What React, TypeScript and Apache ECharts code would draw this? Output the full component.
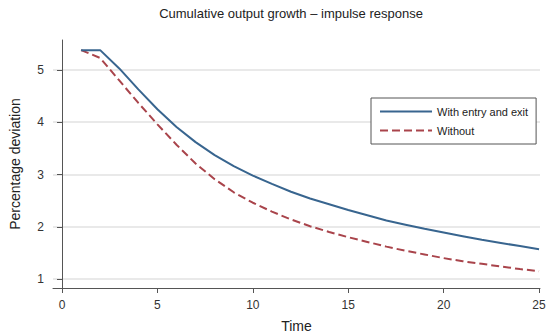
import React, { useEffect, useRef } from "react";
import * as echarts from "echarts";

const time = [1,2,3,4,5,6,7,8,9,10,11,12,13,14,15,16,17,18,19,20,21,22,23,24,25];
const withEntryExit = [5.38,5.38,5.03,4.63,4.25,3.91,3.62,3.37,3.16,2.98,2.82,2.67,2.54,2.43,2.32,2.22,2.12,2.04,1.96,1.89,1.82,1.75,1.69,1.63,1.57];
const without = [5.38,5.23,4.80,4.37,3.96,3.57,3.21,2.91,2.66,2.46,2.29,2.14,2.01,1.90,1.80,1.71,1.62,1.54,1.47,1.40,1.34,1.29,1.24,1.19,1.15];
const xTicks = [0,5,10,15,20,25];
const yTicks = [1,2,3,4,5];
const seriesNames = ["With entry and exit", "Without"];

const FONT = "Liberation Sans, Arial, Helvetica, sans-serif";

export default function App() {
  const ref = useRef<HTMLDivElement>(null);
  useEffect(() => {
    if (!ref.current) return;
    const chart = echarts.init(ref.current, null, { renderer: "svg" });
    chart.setOption({
      animation: false,
      backgroundColor: "#ffffff",
      textStyle: { fontFamily: FONT },
      title: {
        text: "Cumulative output growth \u2013 impulse response",
        left: 286,
        top: 2,
        textAlign: "center",
        textStyle: { fontSize: 13, fontWeight: "normal", color: "#222", fontFamily: FONT },
      },
      legend: {
        orient: "vertical",
        left: 371,
        top: 98,
        width: 156,
        itemWidth: 52,
        itemHeight: 10,
        itemGap: 8,
        padding: [8, 8, 8, 8],
        borderColor: "#555",
        borderWidth: 1,
        backgroundColor: "#fff",
        itemStyle: { opacity: 0 },
        textStyle: { fontSize: 11, color: "#222", fontFamily: FONT },
        data: seriesNames,
      },
      grid: { left: 53, right: 7, top: 40, bottom: 46, containLabel: false, outerBoundsMode: "none" },
      xAxis: {
        type: "value",
        min: -0.472,
        max: 25.05,
        name: "Time",
        nameLocation: "middle",
        nameGap: 31,
        nameTextStyle: { fontSize: 14, color: "#222", fontFamily: FONT },
        axisLine: { show: true, lineStyle: { color: "#555", width: 1 } },
        axisTick: { show: true, length: 5, lineStyle: { color: "#555" }, customValues: xTicks },
        axisLabel: { fontSize: 12, color: "#333", margin: 11, customValues: xTicks, fontFamily: FONT },
        splitLine: { show: false },
      },
      yAxis: {
        type: "value",
        min: 0.828,
        max: 5.574,
        name: "Percentage deviation",
        nameLocation: "middle",
        nameGap: 31,
        nameRotate: 90,
        nameTextStyle: { fontSize: 14, color: "#222", fontFamily: FONT },
        axisLine: { show: true, lineStyle: { color: "#555", width: 1 } },
        axisTick: { show: true, length: 5, lineStyle: { color: "#555" }, customValues: yTicks },
        axisLabel: { fontSize: 12, color: "#333", margin: 9, customValues: yTicks, fontFamily: FONT },
        splitLine: { show: true, lineStyle: { color: "#e2e2e2", width: 1.5 } },
      },
      series: [
        {
          name: seriesNames[0],
          type: "line",
          data: time.map((t, i) => [t, withEntryExit[i]]),
          showSymbol: false,
          symbol: "none",
          lineStyle: { color: "#38658f", width: 2 },
          itemStyle: { color: "#38658f" },
          z: 3,
        },
        {
          name: seriesNames[1],
          type: "line",
          data: time.map((t, i) => [t, without[i]]),
          showSymbol: false,
          symbol: "none",
          lineStyle: { color: "#a9444b", width: 2, type: [8, 4] },
          itemStyle: { color: "#a9444b" },
          z: 2,
        },
      ],
    });
    return () => chart.dispose();
  }, []);
  return <div ref={ref} style={{ width: 547, height: 334, position: "absolute", left: 0, top: 0 }} />;
}
